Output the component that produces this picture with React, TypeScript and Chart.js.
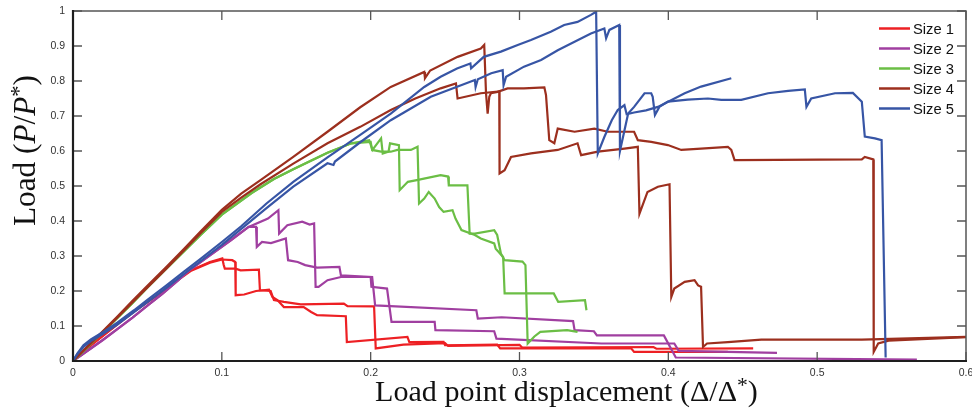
import { useEffect, useRef } from 'react';
import { Chart, registerables } from 'chart.js';

Chart.register(...registerables);

// ---------- axis ticks ----------
const xTickValues = [0, 0.1, 0.2, 0.3, 0.4, 0.5, 0.6];
const xTickLabels = ['0', '0.1', '0.2', '0.3', '0.4', '0.5', '0.6'];
const yTickValues = [0, 0.1, 0.2, 0.3, 0.4, 0.5, 0.6, 0.7, 0.8, 0.9, 1];
const yTickLabels = ['0', '0.1', '0.2', '0.3', '0.4', '0.5', '0.6', '0.7', '0.8', '0.9', '1'];

// ---------- series ----------
const seriesLabels = ['Size 1', 'Size 2', 'Size 3', 'Size 4', 'Size 5'];
const seriesColors = ['#ed2024', '#a03fa0', '#6bbe45', '#9c2f1e', '#3755a5'];

// Size 1 specimens
const size1a: [number, number][] = [
  [0, 0], [0.005, 0.02], [0.01, 0.038], [0.02, 0.072], [0.03, 0.105], [0.04, 0.138], [0.05, 0.168],
  [0.06, 0.198], [0.07, 0.232], [0.079, 0.259], [0.092, 0.283], [0.1003, 0.293], [0.1013, 0.274],
  [0.102, 0.264], [0.1092, 0.264], [0.1126, 0.259], [0.1249, 0.261], [0.1256, 0.202], [0.1328, 0.2],
  [0.135, 0.174], [0.1417, 0.169], [0.153, 0.162], [0.182, 0.164], [0.1844, 0.157], [0.2023, 0.156],
  [0.2034, 0.036], [0.222, 0.047], [0.25, 0.051], [0.252, 0.043], [0.3, 0.046], [0.302, 0.038],
  [0.39, 0.04], [0.392, 0.035], [0.457, 0.036],
];
const size1b: [number, number][] = [
  [0, 0], [0.005, 0.02], [0.01, 0.038], [0.02, 0.072], [0.03, 0.105], [0.04, 0.138], [0.05, 0.168],
  [0.06, 0.198], [0.07, 0.23], [0.079, 0.257], [0.092, 0.281], [0.1003, 0.29], [0.107, 0.288],
  [0.109, 0.283], [0.1093, 0.188], [0.115, 0.19], [0.123, 0.2], [0.1317, 0.204], [0.134, 0.183],
  [0.1373, 0.174], [0.1417, 0.154], [0.155, 0.154], [0.16, 0.14], [0.164, 0.131], [0.1833, 0.128],
  [0.184, 0.054], [0.2247, 0.069], [0.226, 0.054], [0.249, 0.055], [0.25, 0.045], [0.285, 0.047],
  [0.287, 0.036], [0.375, 0.036], [0.377, 0.026], [0.44, 0.026],
];

// Size 2 specimens
const size2a: [number, number][] = [
  [0, 0], [0.005, 0.015], [0.01, 0.03], [0.02, 0.06], [0.03, 0.092], [0.04, 0.124], [0.05, 0.158],
  [0.06, 0.192], [0.07, 0.228], [0.079, 0.262], [0.092, 0.302], [0.106, 0.345], [0.118, 0.383],
  [0.131, 0.407], [0.138, 0.431], [0.1385, 0.364], [0.144, 0.388], [0.154, 0.398], [0.159, 0.39],
  [0.162, 0.393], [0.163, 0.212], [0.165, 0.212], [0.171, 0.231], [0.18, 0.24], [0.2, 0.24],
  [0.2005, 0.212], [0.211, 0.207], [0.214, 0.112], [0.243, 0.112], [0.2435, 0.088], [0.283, 0.085],
  [0.2845, 0.064], [0.355, 0.05], [0.404, 0.05], [0.407, 0.029], [0.473, 0.023],
];
const size2b: [number, number][] = [
  [0, 0], [0.005, 0.015], [0.01, 0.03], [0.02, 0.06], [0.03, 0.092], [0.04, 0.124], [0.05, 0.158],
  [0.06, 0.192], [0.07, 0.228], [0.079, 0.262], [0.092, 0.302], [0.106, 0.345], [0.118, 0.383],
  [0.123, 0.383], [0.1235, 0.326], [0.127, 0.34], [0.133, 0.337], [0.143, 0.35], [0.1445, 0.288],
  [0.151, 0.283], [0.156, 0.274], [0.164, 0.267], [0.179, 0.269], [0.18, 0.245], [0.201, 0.24],
  [0.203, 0.159], [0.271, 0.145], [0.272, 0.121], [0.288, 0.125], [0.336, 0.114], [0.337, 0.088],
  [0.35, 0.085], [0.352, 0.073], [0.397, 0.073], [0.405, 0.01], [0.567, 0.004],
];

// Size 3 specimens
const size3a: [number, number][] = [
  [0, 0], [0.005, 0.02], [0.01, 0.041], [0.02, 0.082], [0.03, 0.124], [0.04, 0.166], [0.05, 0.21],
  [0.063, 0.265], [0.075, 0.315], [0.0857, 0.36], [0.1, 0.418], [0.12, 0.48], [0.135, 0.52],
  [0.148, 0.548], [0.171, 0.595], [0.187, 0.622], [0.199, 0.631], [0.2012, 0.603], [0.207, 0.636],
  [0.2081, 0.593], [0.212, 0.598], [0.213, 0.622], [0.219, 0.617], [0.2195, 0.488], [0.225, 0.512],
  [0.231, 0.517], [0.247, 0.531], [0.252, 0.527], [0.2525, 0.502], [0.265, 0.502], [0.2665, 0.364],
  [0.27, 0.364], [0.283, 0.374], [0.285, 0.36], [0.2875, 0.307], [0.29, 0.288], [0.302, 0.284],
  [0.304, 0.274], [0.3055, 0.05], [0.31, 0.07], [0.314, 0.083], [0.332, 0.088], [0.339, 0.083],
];
const size3b: [number, number][] = [
  [0, 0], [0.005, 0.02], [0.01, 0.041], [0.02, 0.082], [0.03, 0.124], [0.04, 0.166], [0.05, 0.21],
  [0.063, 0.265], [0.075, 0.315], [0.0857, 0.36], [0.1, 0.418], [0.12, 0.48], [0.135, 0.52],
  [0.148, 0.548], [0.171, 0.595], [0.187, 0.622], [0.2, 0.626], [0.201, 0.603], [0.207, 0.598],
  [0.2135, 0.598], [0.218, 0.603], [0.227, 0.603], [0.2315, 0.612], [0.2325, 0.45], [0.236, 0.464],
  [0.239, 0.483], [0.243, 0.464], [0.246, 0.44], [0.249, 0.426], [0.255, 0.431], [0.257, 0.407],
  [0.261, 0.374], [0.27, 0.36], [0.274, 0.35], [0.283, 0.336], [0.284, 0.321], [0.289, 0.297],
  [0.29, 0.193], [0.323, 0.193], [0.326, 0.169], [0.344, 0.174], [0.345, 0.145],
];

// Size 4 specimens
const size4a: [number, number][] = [
  [0, 0], [0.005, 0.022], [0.01, 0.043], [0.02, 0.085], [0.03, 0.128], [0.04, 0.172], [0.05, 0.215],
  [0.063, 0.27], [0.075, 0.322], [0.0857, 0.37], [0.1, 0.432], [0.113, 0.478], [0.126, 0.517],
  [0.148, 0.583], [0.171, 0.655], [0.193, 0.725], [0.2135, 0.783], [0.236, 0.826], [0.2365, 0.808],
  [0.24, 0.83], [0.2584, 0.869], [0.274, 0.893], [0.2763, 0.903], [0.2775, 0.765], [0.2786, 0.707],
  [0.2797, 0.755], [0.2808, 0.765], [0.2853, 0.769], [0.292, 0.779], [0.303, 0.779], [0.3167, 0.782],
  [0.3178, 0.76], [0.32, 0.631], [0.3234, 0.622], [0.3257, 0.664], [0.337, 0.655], [0.3503, 0.664],
  [0.3593, 0.655], [0.377, 0.655], [0.3795, 0.631], [0.3885, 0.626], [0.3997, 0.617], [0.4087, 0.603],
  [0.422, 0.607], [0.44, 0.612], [0.4423, 0.603], [0.4445, 0.574], [0.53, 0.576], [0.532, 0.583],
  [0.5377, 0.576], [0.538, 0.026], [0.541, 0.05], [0.548, 0.058], [0.6, 0.068],
];
const size4b: [number, number][] = [
  [0, 0], [0.005, 0.021], [0.01, 0.042], [0.02, 0.083], [0.03, 0.125], [0.04, 0.168], [0.05, 0.21],
  [0.063, 0.265], [0.075, 0.318], [0.0857, 0.365], [0.1, 0.426], [0.113, 0.467], [0.126, 0.505],
  [0.148, 0.564], [0.171, 0.622], [0.193, 0.669], [0.2135, 0.717], [0.23, 0.75], [0.247, 0.779],
  [0.2573, 0.793], [0.2584, 0.75], [0.274, 0.765], [0.2864, 0.77], [0.2866, 0.536], [0.29, 0.545],
  [0.2943, 0.583], [0.3077, 0.593], [0.3257, 0.603], [0.339, 0.622], [0.3414, 0.588], [0.3526, 0.598],
  [0.3705, 0.607], [0.3795, 0.612], [0.3806, 0.421], [0.386, 0.483], [0.393, 0.498], [0.4008, 0.505],
  [0.402, 0.183], [0.404, 0.207], [0.411, 0.226], [0.4176, 0.231], [0.42, 0.216], [0.422, 0.212],
  [0.4233, 0.04], [0.426, 0.05], [0.44, 0.054], [0.4625, 0.061], [0.53, 0.061], [0.6, 0.069],
];

// Size 5 specimens
const size5a: [number, number][] = [
  [0, 0], [0.003, 0.022], [0.007, 0.045], [0.012, 0.062], [0.02, 0.082], [0.03, 0.11], [0.041, 0.145],
  [0.05, 0.175], [0.063, 0.217], [0.075, 0.257], [0.0857, 0.292], [0.1, 0.34], [0.113, 0.385],
  [0.13, 0.45], [0.148, 0.512], [0.171, 0.582], [0.193, 0.646], [0.2135, 0.707], [0.236, 0.783],
  [0.247, 0.812], [0.258, 0.836], [0.267, 0.85], [0.2675, 0.836], [0.276, 0.869], [0.2875, 0.884],
  [0.2988, 0.903], [0.3077, 0.917], [0.321, 0.941], [0.33, 0.96], [0.339, 0.969], [0.348, 0.989],
  [0.3515, 0.998], [0.3526, 0.593], [0.357, 0.64], [0.362, 0.688], [0.366, 0.717], [0.3705, 0.731],
  [0.372, 0.705], [0.377, 0.71], [0.385, 0.716], [0.393, 0.726], [0.411, 0.765], [0.422, 0.784],
  [0.4423, 0.808],
];
const size5b: [number, number][] = [
  [0, 0], [0.003, 0.02], [0.007, 0.04], [0.012, 0.057], [0.02, 0.077], [0.03, 0.105], [0.041, 0.14],
  [0.05, 0.168], [0.063, 0.21], [0.075, 0.25], [0.0857, 0.285], [0.1, 0.332], [0.13, 0.437],
  [0.148, 0.498], [0.171, 0.565], [0.175, 0.56], [0.176, 0.57], [0.193, 0.625], [0.2135, 0.688],
  [0.2404, 0.755], [0.27, 0.803], [0.2705, 0.783], [0.272, 0.805], [0.281, 0.822], [0.2887, 0.831],
  [0.2893, 0.788], [0.291, 0.812], [0.303, 0.841], [0.3145, 0.86], [0.3257, 0.888], [0.337, 0.912],
  [0.348, 0.936], [0.357, 0.95], [0.3582, 0.922], [0.3604, 0.946], [0.367, 0.96], [0.3675, 0.6],
  [0.373, 0.707], [0.377, 0.726], [0.384, 0.765], [0.3885, 0.765], [0.3895, 0.755], [0.391, 0.703],
  [0.394, 0.726], [0.3997, 0.741], [0.413, 0.747], [0.4266, 0.75], [0.4356, 0.746], [0.449, 0.746],
  [0.467, 0.765], [0.4805, 0.772], [0.4917, 0.776], [0.4928, 0.726], [0.496, 0.75], [0.512, 0.765],
  [0.524, 0.766], [0.53, 0.741], [0.532, 0.641], [0.5388, 0.636], [0.5433, 0.631], [0.546, 0.01],
];

const curves: { size: number; pts: [number, number][] }[] = [
  { size: 0, pts: size1a }, { size: 0, pts: size1b },
  { size: 1, pts: size2a }, { size: 1, pts: size2b },
  { size: 2, pts: size3a }, { size: 2, pts: size3b },
  { size: 3, pts: size4a }, { size: 3, pts: size4b },
  { size: 4, pts: size5a }, { size: 4, pts: size5b },
];

type Piece = { t: string; it?: boolean; sup?: boolean };
const xTitle: Piece[] = [
  { t: 'Load point displacement (' }, { t: 'Δ' }, { t: '/' }, { t: 'Δ' }, { t: '*', sup: true }, { t: ')' },
];
const yTitle: Piece[] = [
  { t: 'Load (' }, { t: 'P', it: true }, { t: '/' }, { t: 'P', it: true }, { t: '*', sup: true }, { t: ')' },
];

const SERIF = '"Liberation Serif", "DejaVu Serif", serif';
const SANS = '"Liberation Sans", Arial, sans-serif';

function pieceFont(p: Piece, size: number) {
  const s = p.sup ? size * 0.72 : size;
  return `${p.it ? 'italic ' : ''}${s}px ${SERIF}`;
}
function richWidth(ctx: CanvasRenderingContext2D, pieces: Piece[], size: number) {
  let w = 0;
  for (const p of pieces) {
    ctx.font = pieceFont(p, size);
    w += ctx.measureText(p.t).width;
  }
  return w;
}
function drawRich(ctx: CanvasRenderingContext2D, pieces: Piece[], targetW: number, cx: number, baseY: number) {
  const base = 30;
  const size = base * (targetW / richWidth(ctx, pieces, base));
  const w = richWidth(ctx, pieces, size);
  let x = cx - w / 2;
  ctx.textBaseline = 'alphabetic';
  ctx.textAlign = 'left';
  for (const p of pieces) {
    ctx.font = pieceFont(p, size);
    ctx.fillText(p.t, x, p.sup ? baseY - size * 0.3 : baseY);
    x += ctx.measureText(p.t).width;
  }
}

const decorPlugin = {
  id: 'decor',
  afterDraw(chart: any) {
    const { ctx, chartArea: a, scales } = chart;
    const xs = scales.x;
    const ys = scales.y;
    ctx.save();
    // inward ticks on all four sides
    ctx.strokeStyle = '#555';
    ctx.lineWidth = 1.3;
    ctx.beginPath();
    for (const v of xTickValues) {
      const px = xs.getPixelForValue(v);
      ctx.moveTo(px, a.bottom); ctx.lineTo(px, a.bottom - 9);
      ctx.moveTo(px, a.top); ctx.lineTo(px, a.top + 9);
    }
    for (const v of yTickValues) {
      const py = ys.getPixelForValue(v);
      ctx.moveTo(a.left, py); ctx.lineTo(a.left + 9, py);
      ctx.moveTo(a.right, py); ctx.lineTo(a.right - 9, py);
    }
    ctx.stroke();
    // frame
    ctx.strokeStyle = '#555';
    ctx.lineWidth = 1.5;
    ctx.beginPath();
    ctx.moveTo(a.left, a.top); ctx.lineTo(a.right, a.top); ctx.lineTo(a.right, a.bottom);
    ctx.stroke();
    ctx.strokeStyle = '#1e1e1e';
    ctx.lineWidth = 2.2;
    ctx.beginPath();
    ctx.moveTo(a.left, a.top - 1); ctx.lineTo(a.left, a.bottom); ctx.lineTo(a.right + 1, a.bottom);
    ctx.stroke();

    // legend
    let fs = 16;
    ctx.font = `${fs}px ${SANS}`;
    fs = fs * (41 / ctx.measureText('Size 1').width);
    ctx.font = `${fs}px ${SANS}`;
    ctx.textBaseline = 'middle';
    ctx.textAlign = 'left';
    seriesLabels.forEach((lab, i) => {
      const y = 28.5 + i * 20;
      ctx.strokeStyle = seriesColors[i];
      ctx.lineWidth = 2.5;
      ctx.beginPath();
      ctx.moveTo(879, y); ctx.lineTo(910, y);
      ctx.stroke();
      ctx.fillStyle = '#111';
      ctx.fillText(lab, 913, y + 1);
    });

    // axis titles
    ctx.fillStyle = '#111';
    drawRich(ctx, xTitle, 383, 566.5, 401);
    ctx.save();
    ctx.translate(35, 150.5);
    ctx.rotate(-Math.PI / 2);
    drawRich(ctx, yTitle, 151, 0, 0);
    ctx.restore();
    ctx.restore();
  },
};

export default function App() {
  const ref = useRef<HTMLCanvasElement | null>(null);
  useEffect(() => {
    document.body.style.margin = '0';
    const canvas = ref.current;
    if (!canvas) return;
    const datasets = curves.map((c) => ({
      label: seriesLabels[c.size],
      data: c.pts.map(([x, y]) => ({ x, y })),
      borderColor: seriesColors[c.size],
      backgroundColor: seriesColors[c.size],
      borderWidth: 2.2,
      pointRadius: 0,
      tension: 0,
      fill: false,
      order: 5 - c.size,
    }));
    const chart = new Chart(canvas, {
      type: 'line',
      data: { datasets },
      plugins: [decorPlugin],
      options: {
        animation: false,
        responsive: false,
        maintainAspectRatio: false,
        parsing: true,
        layout: { padding: { left: 0, right: 6, top: 11, bottom: 0 } },
        plugins: { legend: { display: false }, tooltip: { enabled: false } },
        scales: {
          x: {
            type: 'linear',
            min: 0,
            max: 0.6,
            grid: { display: false, drawTicks: false },
            border: { display: false },
            afterBuildTicks: (s: any) => { s.ticks = xTickValues.map((v) => ({ value: v })); },
            afterFit: (s: any) => { s.height = 51; s.paddingLeft = 0; s.paddingRight = 0; },
            ticks: {
              padding: 6,
              color: '#333',
              font: { family: SANS, size: 10.5 },
              maxRotation: 0,
              autoSkip: false,
              callback: (_v: any, i: number) => xTickLabels[i],
            },
          },
          y: {
            type: 'linear',
            min: 0,
            max: 1,
            grid: { display: false, drawTicks: false },
            border: { display: false },
            afterBuildTicks: (s: any) => { s.ticks = yTickValues.map((v) => ({ value: v })); },
            afterFit: (s: any) => { s.width = 73; s.paddingTop = 0; s.paddingBottom = 0; },
            ticks: {
              padding: 8,
              color: '#333',
              font: { family: SANS, size: 10.5 },
              autoSkip: false,
              callback: (_v: any, i: number) => yTickLabels[i],
            },
          },
        },
      },
    });
    return () => chart.destroy();
  }, []);
  return (
    <div style={{ width: 972, height: 412 }}>
      <canvas ref={ref} width={972} height={412} style={{ display: 'block' }} />
    </div>
  );
}
